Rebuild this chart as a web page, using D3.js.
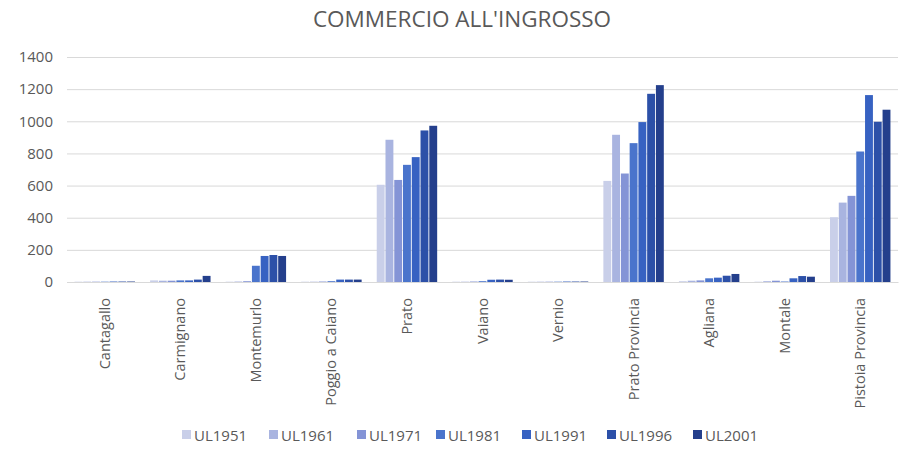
<!DOCTYPE html>
<html>
<head>
<meta charset="utf-8">
<script src="https://cdn.jsdelivr.net/npm/d3@7"></script>
<style>
html,body{margin:0;padding:0;background:#fff;}
svg{display:block;font-family:"Open Sans",sans-serif;}
</style>
</head>
<body>
<svg id="chart" width="902" height="449"></svg>
<script>
const categories = ["Cantagallo","Carmignano","Montemurlo","Poggio a Caiano","Prato","Vaiano","Vernio","Prato Provincia","Agliana","Montale","Pistoia Provincia"];
const seriesNames = ["UL1951","UL1961","UL1971","UL1981","UL1991","UL1996","UL2001"];
const UL1951 = [2, 10, 2, 2, 605, 2, 2, 629, 5, 2, 403];
const UL1961 = [2, 8, 3, 2, 885, 2, 2, 916, 8, 5, 494];
const UL1971 = [2, 8, 5, 3, 635, 3, 2, 675, 10, 8, 536];
const UL1981 = [2, 10, 101, 5, 729, 5, 2, 864, 23, 3, 812];
const UL1991 = [3, 10, 162, 15, 777, 14, 3, 995, 27, 23, 1163];
const UL1996 = [3, 15, 168, 15, 943, 15, 3, 1171, 39, 37, 997];
const UL2001 = [3, 38, 162, 15, 972, 14, 3, 1225, 50, 33, 1072];
const yTicks = [0, 200, 400, 600, 800, 1000, 1200, 1400];
const colors = ["#c9cfe9", "#a9b4e0", "#8494d6", "#4a74cc", "#3762c2", "#2c50a8", "#243f8c"];

(function () {
const seriesValues = [UL1951, UL1961, UL1971, UL1981, UL1991, UL1996, UL2001];
const svg = d3.select("#chart");
const mLeft = 67, mRight = 898, mTop = 57, mBottom = 282;

const x0 = d3.scaleBand().domain(categories).range([mLeft, mRight]).paddingInner(0.2).paddingOuter(0.1);
const x1 = d3.scaleBand().domain(seriesNames).range([0, x0.bandwidth()]).paddingInner(0.1);
const y = d3.scaleLinear().domain([0, 1400]).range([mBottom, mTop]);
const color = d3.scaleOrdinal().domain(seriesNames).range(colors);

// title
svg.append("text").attr("x", 462).attr("y", 27).attr("text-anchor", "middle")
  .attr("font-size", 22.5).attr("fill", "#595959").text("COMMERCIO ALL'INGROSSO");

// grid + y axis
const yAxis = d3.axisLeft(y).tickValues(yTicks).tickFormat(d3.format("d")).tickSize(-(mRight - mLeft)).tickPadding(14);
const gy = svg.append("g").attr("transform", `translate(${mLeft},0)`).call(yAxis);
gy.select(".domain").remove();
gy.selectAll(".tick line").attr("stroke", "#d9d9d9").attr("stroke-width", 1);
gy.selectAll(".tick text").attr("fill", "#595959").attr("font-size", 15).attr("font-family", "Open Sans, sans-serif");

// bars
const groups = svg.append("g").selectAll("g").data(categories).join("g")
  .attr("transform", d => `translate(${x0(d)},0)`);
groups.selectAll("rect").data((c, i) => seriesNames.map((s, j) => ({s, v: seriesValues[j][i]})))
  .join("rect")
  .attr("x", d => x1(d.s)).attr("width", x1.bandwidth())
  .attr("y", d => y(d.v)).attr("height", d => y(0) - y(d.v))
  .attr("fill", d => color(d.s));

// x axis
const xAxis = d3.axisBottom(x0).tickSize(0).tickPadding(0);
const gx = svg.append("g").attr("transform", `translate(0,${mBottom})`).call(xAxis);
gx.select(".domain").attr("stroke", "#d9d9d9");
gx.selectAll(".tick text")
  .attr("fill", "#595959").attr("font-size", 14.5).attr("font-family", "Open Sans, sans-serif")
  .attr("text-anchor", "end").attr("dy", null).attr("y", 0)
  .attr("transform", "translate(5,16) rotate(-90)");

// legend
const legendX = [182, 269, 357, 436, 522, 607, 693];
const lg = svg.append("g").selectAll("g").data(seriesNames).join("g")
  .attr("transform", (d, i) => `translate(${legendX[i]},435)`);
lg.append("rect").attr("x", 0).attr("y", -5).attr("width", 9).attr("height", 9).attr("fill", d => color(d));
lg.append("text").attr("x", 12).attr("y", 5.5).attr("font-size", 15).attr("fill", "#595959").text(d => d);
})();
</script>
</body>
</html>
